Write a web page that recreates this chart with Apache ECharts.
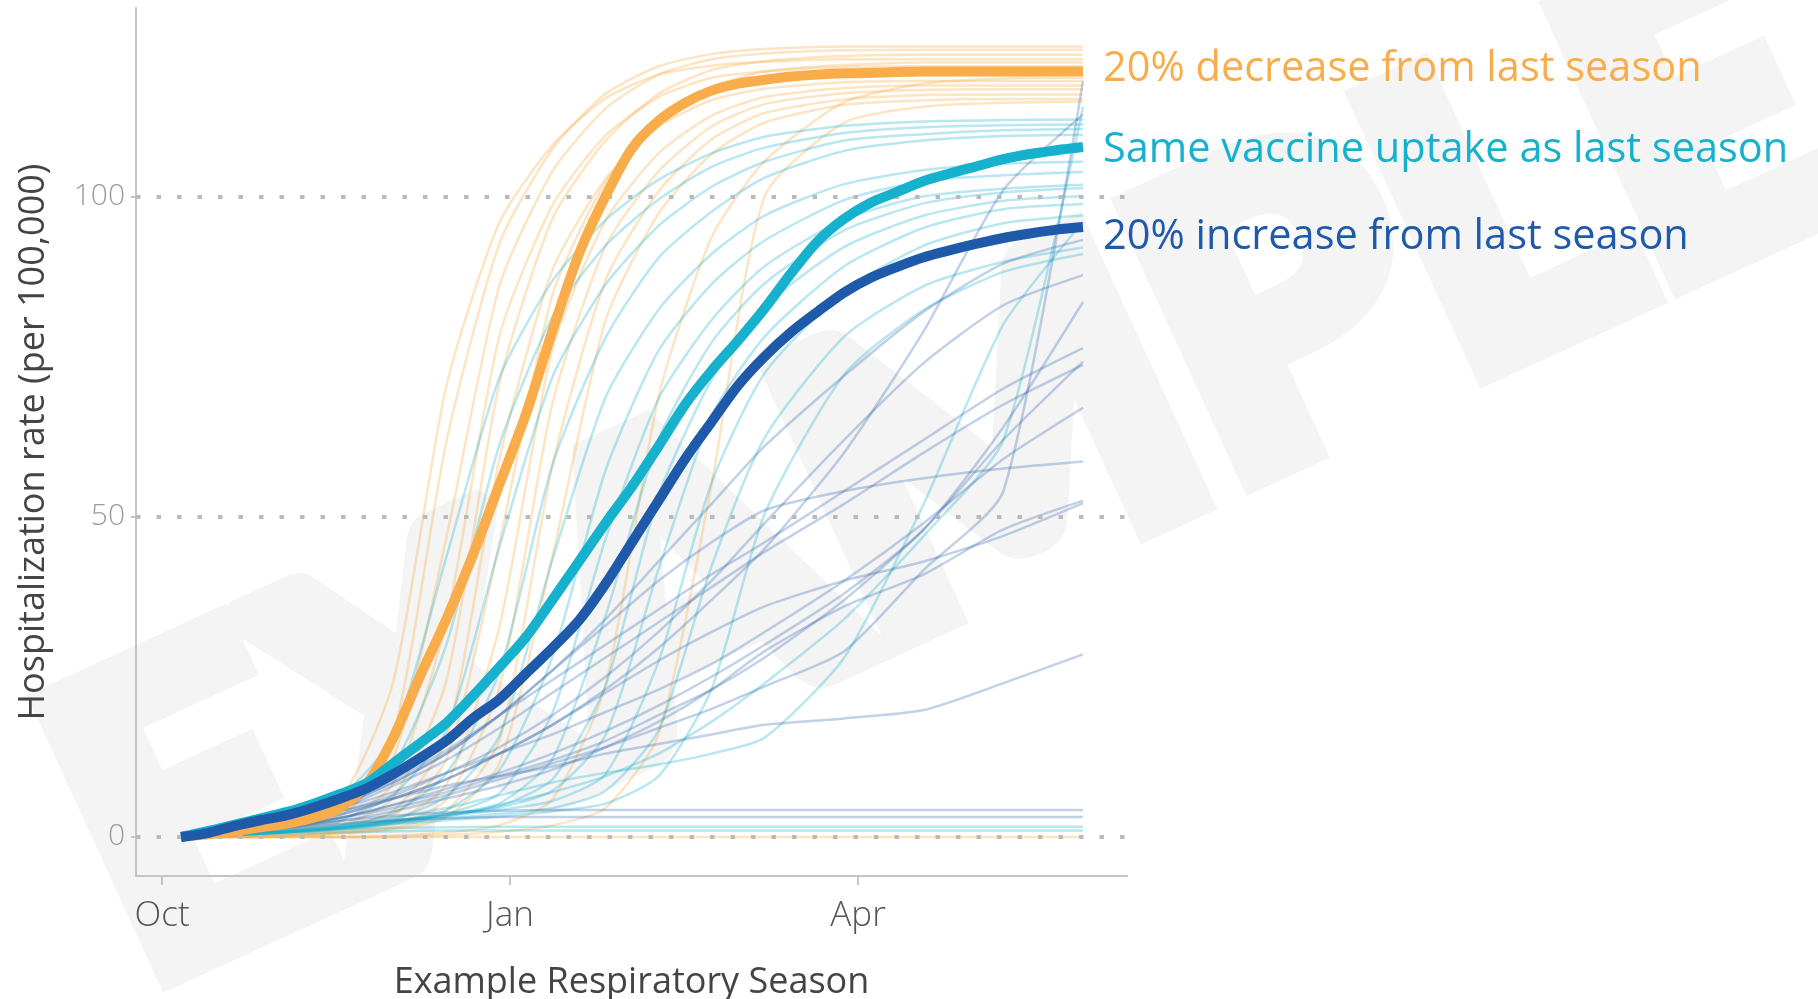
<!DOCTYPE html>
<html>
<head>
<meta charset="utf-8">
<script src="https://cdn.jsdelivr.net/npm/echarts@6/dist/echarts.min.js"></script>
<style>
html,body{margin:0;padding:0;background:#ffffff;}
#chart{width:1818px;height:999px;}
</style>
</head>
<body>
<div id="chart"></div>
<script>
// ---------- data ----------
// x: weekly step index of the season (0 = first reported week)
const weekIdx = [0,1,2,3,4,5,6,7,8,9,10,11,12,13,14,15,16,17,18,19,20,21,22,23,24,25,26,27,28,29,30,31,32,33,34];
// x positions sampled for the thin simulation runs
const thinIdx = [0,3,6,8,10,12,14,16,18,20,22,25,28,31,34];

// month tick positions (in week-index units) and their labels
const monthTickAt = [-0.716, 12.40, 25.52];
const monthLabels = ['Oct', 'Jan', 'Apr'];
const yTicks = [0, 50, 100];

const scenarioNames = ['20% decrease from last season', 'Same vaccine uptake as last season', '20% increase from last season'];

// median (thick) lines
const decrease = [0,0.4,0.9,1.5,2.1,3.0,4.6,8.3,15.5,25,34,44,55,66,79,91,100,107.5,111.8,114.6,116.5,117.6,118.2,118.7,119,119.2,119.3,119.4,119.5,119.5,119.5,119.5,119.5,119.5,119.5];
const same = [0,0.9,1.9,2.9,3.9,5.2,6.7,8.4,11.5,14.6,17.8,22,26.5,31.2,37,43,49,54.7,61,67.5,72.8,77.5,82.5,88,93,96.5,99,100.7,102.4,103.6,104.7,105.8,106.6,107.2,107.7];
const increase = [0,0.6,1.7,2.6,3.4,4.6,6.0,7.6,9.8,12.3,15,18.5,21.5,25.5,29.5,33.8,39.5,46,52.5,59,64.8,70.5,75,78.8,82,85,87.3,89,90.5,91.6,92.6,93.5,94.2,94.8,95.2];

// individual runs (thin lines), values at thinIdx
const decreaseRuns = [
  [0,1.2,6.1,24.3,70.4,95.9,108,115.3,119,120.4,121,121.4,121.4,121.4,121.4],
  [0,1,4.3,16,61.7,92.6,107.4,116,120.3,122.2,123,123.4,123.4,123.4,123.4],
  [0,0.7,3.3,12.3,46.7,86,103.9,113.7,119,121.4,122.3,122.8,122.9,122.9,122.9],
  [0,0.6,2.4,8.4,33.7,78.2,98.6,109.5,115.5,118.5,119.5,120.2,120.3,120.3,120.3],
  [0,0.5,1.8,6.1,24.4,70.8,96.5,108.7,116,119.7,121.1,121.9,122.1,122.1,122.1],
  [0,0.4,1.4,4.1,15.3,59,88.5,102.7,110.9,115,116.8,117.8,118,118,118],
  [0,0.2,1.2,3.3,12.1,45.9,84.6,102.2,111.8,117,119.5,120.5,120.9,120.9,120.9],
  [0,0.1,0.9,2.3,8.2,32.8,76.2,96.2,106.7,112.6,115.5,116.9,117.3,117.3,117.3],
  [0,0.1,0.7,1.8,5.8,23.3,67.7,92.2,103.9,110.9,114.4,116.1,116.6,116.7,116.7],
  [0,0,0.6,1.4,4.1,15.1,58,86.9,100.8,108.9,113,115.1,115.8,115.9,115.9],
  [0,0,0.5,1.2,3.1,11.5,43.8,80.6,97.3,106.6,111.5,114.3,115,115.2,115.2],
  [0,0,0,0.2,0.7,1.8,5.9,23.7,68.7,93.6,105.5,114.7,117.6,118.4,118.5],
  [0,0,0,0,0.3,0.8,1.8,4.5,16,55,100,111.5,114,114.6,114.8],
  [0,0,0,0,0,0,0,0,0,0,0,0,0,0,0]
];
const sameRuns = [
  [0,1.8,6.4,15.7,43.7,71.7,86.8,96.3,102.6,106.7,109.3,111,111.7,111.9,112],
  [0,1.3,4.1,11.1,30,61.2,81.2,92.3,99.5,104.6,107.6,109.9,110.8,111.1,111.2],
  [0,1,2.7,6.6,16.6,45.3,71.8,86.2,95.4,101.5,105.4,108.7,109.7,110.3,110.5],
  [0,0.7,1.8,3.7,9.9,25.8,58.1,77.9,90.4,97.6,102.9,107.1,108.7,109.4,109.6],
  [0,0.6,1.5,2.8,6.3,15.8,43.3,68.6,82.3,91,97,101.9,104.1,105.1,105.4],
  [0,0.6,1.4,2.4,4.2,10.4,28.1,57.2,75.9,86.3,93.1,99.4,102.4,103.3,103.8],
  [0,0.5,1.3,2.2,3.6,6.8,19.4,46.5,68.4,80.7,89.1,96.4,100,101.2,101.8],
  [0,0.5,1.2,2.1,3.2,5.2,12.2,34.5,62,77.2,86.4,94.7,98.9,100.6,101.3],
  [0,0.6,1.5,2.4,3.4,4.8,9,23.6,53.3,71.4,82.8,92.1,97,99.3,100],
  [0,0.7,1.7,2.6,3.5,4.6,7.2,15.9,41.8,65.7,78.1,89.1,95.1,98,98.8],
  [0,0.6,1.6,2.5,3.3,4.2,5.6,9.8,27.4,55.3,72.4,85.2,92.3,95.8,97],
  [0,0.5,1.4,2.2,2.9,3.6,4.5,7.2,16.7,42.3,62.3,78.1,86,89.8,92],
  [0,0.5,1.3,2,2.6,3.2,4,5.2,9.5,23.1,50.4,72.2,82.3,88.2,91],
  [0,0.8,2,3,4.5,6.5,8.5,10,11.3,13,15.5,28,52,80,96],
  [0,0.6,1.5,2.5,3.5,5,7,9.5,13,18,24,34,47,62,114],
  [0,0.6,1.1,1.4,1.5,1.6,1.6,1.6,1.6,1.6,1.6,1.6,1.6,1.6,1.6],
  [0,0.4,0.7,0.9,1,1,1,1,1,1,1,1,1,1,1]
];
const increaseRuns = [
  [0,1.2,3,4.5,6.5,9,11.5,14,17,20,23.5,29,41.7,54,118],
  [0,1.2,3.5,6,9,13,17.5,23,29.5,37,45,60,79,101,112.8],
  [0,1.5,5,8.5,13,19,26,34,43,52,61,72,82,89.5,93.2],
  [0,1.3,4,6.5,10,14,19,25,32,40,49,62,74,83,87.7],
  [0,1,3,5,7.5,10,13,16.5,20.5,25,30,38,48,64,83.5],
  [0,1.6,5.5,9,13.5,19,24.5,30,35.5,41,46,54,62,70,76.3],
  [0,1.2,3,5,7,9.5,12,15,19,23,28,37,48,62,74.2],
  [0,1.4,4.5,8,12,17,22.5,28,33.5,39,44.5,52,60,67.5,73.7],
  [0,1.4,4.5,7,10,13,16,19.5,23,27,32,40,49,59,67],
  [0,1.5,5,8.5,13,19,26,33,40,46,51,54,56,57.5,58.6],
  [0,1.2,3.5,6,9,13,17.5,22.5,27.5,32,36,40,43,47,52.1],
  [0,1,2.5,4,6,8,10.5,14,18,23,29,36,41,48,52.5],
  [0,1.5,4,6,8,9.5,11,13,14.5,16,17.5,18.5,19.8,24,28.5],
  [0,1.2,2.5,3.3,3.8,4.1,4.2,4.2,4.2,4.2,4.2,4.2,4.2,4.2,4.2],
  [0,1,2,2.6,2.9,3.1,3.1,3.1,3.1,3.1,3.1,3.1,3.1,3.1,3.1]
];

// ---------- styling ----------
const ORANGE = '#f9ac4a';
const TEAL = '#15b1cd';
const BLUE = '#1f59a9';
const FONT = '"Open Sans", Lato, sans-serif';

function pairs(xs, ys) { return xs.map(function (x, i) { return [x, ys[i]]; }); }

const series = [];
function addRuns(runs, color, opacity) {
  runs.forEach(function (r) {
    series.push({
      type: 'line', data: pairs(thinIdx, r), showSymbol: false, silent: true,
      smooth: 0.22, z: 2,
      lineStyle: { color: color, width: 2.5, opacity: opacity }
    });
  });
}
addRuns(decreaseRuns, ORANGE, 0.33);
addRuns(sameRuns, TEAL, 0.3);
addRuns(increaseRuns, BLUE, 0.28);

function addMain(name, vals, color, z, dy) {
  series.push({
    name: name, type: 'line', data: pairs(weekIdx, vals), showSymbol: false, silent: true,
    smooth: 0.3, z: z,
    lineStyle: { color: color, width: 10, cap: 'butt', join: 'round' },
    endLabel: {
      show: true, formatter: name, color: color, fontSize: 41.5, fontFamily: FONT,
      distance: 20, offset: [0, dy]
    }
  });
}
addMain(scenarioNames[0], decrease, ORANGE, 5, -2);
addMain(scenarioNames[1], same, TEAL, 6, 3);
addMain(scenarioNames[2], increase, BLUE, 7, 10);

// dotted reference grid lines at the y ticks
series.push({
  type: 'line', data: [], silent: true, z: 10,
  markLine: {
    silent: true, symbol: ['none', 'none'], label: { show: false },
    lineStyle: { color: '#bababa', width: 4, type: [4.5, 16], cap: 'butt' },
    data: yTicks.map(function (v) { return { yAxis: v }; })
  }
});

const option = {
  animation: false,
  backgroundColor: '#ffffff',
  grid: { left: 136, right: 691, top: 8, bottom: 123, containLabel: false, outerBoundsMode: 'none' },
  graphic: [{
    type: 'text', x: 950, y: 470, rotation: 0.43, z: -10, silent: true,
    style: {
      text: 'EXAMPLE', fontSize: 410, fontWeight: 900, fontFamily: 'Lato',
      fill: '#f4f4f4', stroke: '#f4f4f4', lineWidth: 30, lineJoin: 'round',
      align: 'center', verticalAlign: 'middle'
    }
  }],
  xAxis: {
    type: 'value', min: -1.70, max: 35.66,
    name: 'Example Respiratory Season', nameLocation: 'middle', nameGap: 89,
    nameTextStyle: { fontSize: 36, color: '#444', fontFamily: FONT },
    axisLine: { show: true, onZero: false, lineStyle: { color: '#c4c4c4', width: 2 } },
    axisTick: { show: true, customValues: monthTickAt, length: 9, lineStyle: { color: '#c4c4c4', width: 2 } },
    axisLabel: {
      customValues: monthTickAt, margin: 23, fontSize: 35, color: '#555', fontFamily: FONT, fontWeight: 300,
      formatter: function (v) {
        let best = 0;
        monthTickAt.forEach(function (t, i) { if (Math.abs(t - v) < Math.abs(monthTickAt[best] - v)) best = i; });
        return monthLabels[best];
      }
    },
    splitLine: { show: false }
  },
  yAxis: {
    type: 'value', min: -6.1, max: 129.4,
    name: 'Hospitalization rate (per 100,000)', nameLocation: 'middle', nameGap: 84, nameRotate: 90,
    nameTextStyle: { fontSize: 36, color: '#444', fontFamily: FONT },
    axisLine: { show: true, onZero: false, lineStyle: { color: '#c4c4c4', width: 2 } },
    axisTick: { show: true, customValues: yTicks, length: 5, lineStyle: { color: '#c4c4c4', width: 2 } },
    axisLabel: { customValues: yTicks, margin: 11, fontSize: 30, color: '#9c9c9c', fontFamily: FONT, fontWeight: 300 },
    splitLine: { show: false }
  },
  series: series
};

const chart = echarts.init(document.getElementById('chart'), null, { renderer: 'canvas' });
chart.setOption(option);
</script>
</body>
</html>
